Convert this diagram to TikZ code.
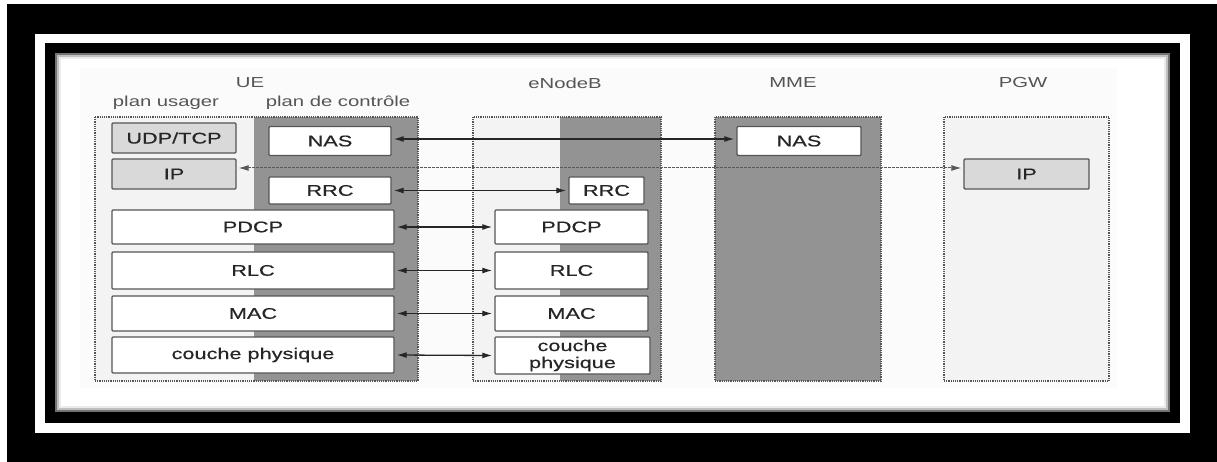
\documentclass[tikz,border=0pt]{standalone}
\usepackage{fontspec}
\setmainfont{Liberation Sans}
\newfontfamily\widesans[FakeStretch=1.4]{Liberation Sans}
\newfontfamily\widesansb[FakeStretch=1.4,FakeBold=0.5]{Liberation Sans}
\usetikzlibrary{arrows.meta}

\definecolor{darkfill}{HTML}{939393}
\definecolor{lightfill}{HTML}{F3F3F3}
\definecolor{ipfill}{HTML}{D9D9D9}
\definecolor{edgecol}{HTML}{555555}
\definecolor{txt}{HTML}{262626}
\definecolor{hdr}{HTML}{555555}

\begin{document}
\begin{tikzpicture}[x=1pt,y=-1pt,
  layer/.style={draw=edgecol, line width=1.4pt, fill=white, rounded corners=1pt, inner sep=0pt,
    font=\widesansb\fontsize{15.5}{17}\selectfont, text=txt, align=center},
  header/.style={font=\widesans\fontsize{14.5}{16}\selectfont, text=hdr, inner sep=0pt},
  zone/.style={draw=edgecol, densely dotted, line width=1.2pt},
  link/.style={draw=black!85, line width=1.3pt,
    {Latex[length=10pt,width=6pt]}-{Latex[length=10pt,width=6pt]}, shorten <=2pt, shorten >=2pt}
]
\useasboundingbox (0,0) rectangle (1217,462);
% frame
\fill[white] (0,0) rectangle (1217,462);
\fill[black] (7,4) rectangle (1217,462);
\fill[white] (35,34) rectangle (1190,433);
\fill[black] (45,43) rectangle (1180,423);
\fill[black!55] (55,53) rectangle (1170,412);
\fill[black!25] (57,55) rectangle (1168,410);
\fill[black!8] (59,57) rectangle (1166,408);
\fill[white] (61,59) rectangle (1164,406);
\fill[black!1.5] (80,68) rectangle (1117,388);

% zones
\fill[lightfill] (95,117) rectangle (254,381);
\fill[darkfill] (254,117) rectangle (418,381);
\draw[zone] (95,117) rectangle (418,381);

\fill[lightfill] (473,117) rectangle (560,381);
\fill[darkfill] (560,117) rectangle (661,381);
\draw[zone] (473,117) rectangle (661,381);

\fill[darkfill] (715,117) rectangle (881,381);
\draw[zone] (715,117) rectangle (881,381);

\fill[lightfill] (944,117) rectangle (1109,381);
\draw[zone] (944,117) rectangle (1109,381);

% headers
\node[header] (hue) at (250,83) {UE};
\node[header] (hup) at (166,103) {plan usager};
\node[header] (hcp) at (338,103) {plan de contrôle};
\node[header] (henb) at (565,83) {eNodeB};
\node[header] (hmme) at (793,83) {MME};
\node[header] (hpgw) at (1023,83) {PGW};

% UE layers
\node[layer, fill=ipfill, minimum width=124pt, minimum height=30pt] (udp) at (174,138) {UDP/TCP};
\node[layer, fill=ipfill, minimum width=124pt, minimum height=30pt] (ipue) at (174,174) {IP};
\node[layer, minimum width=122pt, minimum height=29pt] (nasue) at (330,141) {NAS};
\node[layer, minimum width=122pt, minimum height=27pt] (rrcue) at (330,190.5) {RRC};
\node[layer, minimum width=282pt, minimum height=34pt] (pdcpue) at (253,227) {PDCP};
\node[layer, minimum width=282pt, minimum height=37pt] (rlcue) at (253,270.5) {RLC};
\node[layer, minimum width=282pt, minimum height=35pt] (macue) at (253,313.5) {MAC};
\node[layer, minimum width=282pt, minimum height=36pt] (phyue) at (253,355) {couche physique};

% eNodeB layers
\node[layer, minimum width=75pt, minimum height=27pt] (rrcenb) at (606.5,190.5) {RRC};
\node[layer, minimum width=153pt, minimum height=34pt] (pdcpenb) at (571.5,227) {PDCP};
\node[layer, minimum width=153pt, minimum height=37pt] (rlcenb) at (571.5,270.5) {RLC};
\node[layer, minimum width=153pt, minimum height=35pt] (macenb) at (571.5,313.5) {MAC};
\node[layer, minimum width=155pt, minimum height=37pt] (phyenb) at (572.5,355.5) {couche\\physique};

% MME
\node[layer, minimum width=124pt, minimum height=29pt] (nasmme) at (799,141) {NAS};

% PGW
\node[layer, fill=ipfill, minimum width=125pt, minimum height=30pt] (ippgw) at (1026.5,174) {IP};

% links
\draw[link] ([yshift=2pt]nasue.east) -- ([yshift=2pt]nasmme.west);
\draw[link, draw=black!65, line width=1pt, dash pattern=on 2.5pt off 1.5pt] ([yshift=6pt]ipue.east) -- ([yshift=6pt]ippgw.west);
\draw[link] (rrcue.east) -- (rrcenb.west);
\draw[link] (pdcpue.east) -- (pdcpenb.west);
\draw[link] (rlcue.east) -- (rlcenb.west);
\draw[link] (macue.east) -- (macenb.west);
\draw[link] (phyue.east) -- (phyenb.west);
\end{tikzpicture}
\end{document}
